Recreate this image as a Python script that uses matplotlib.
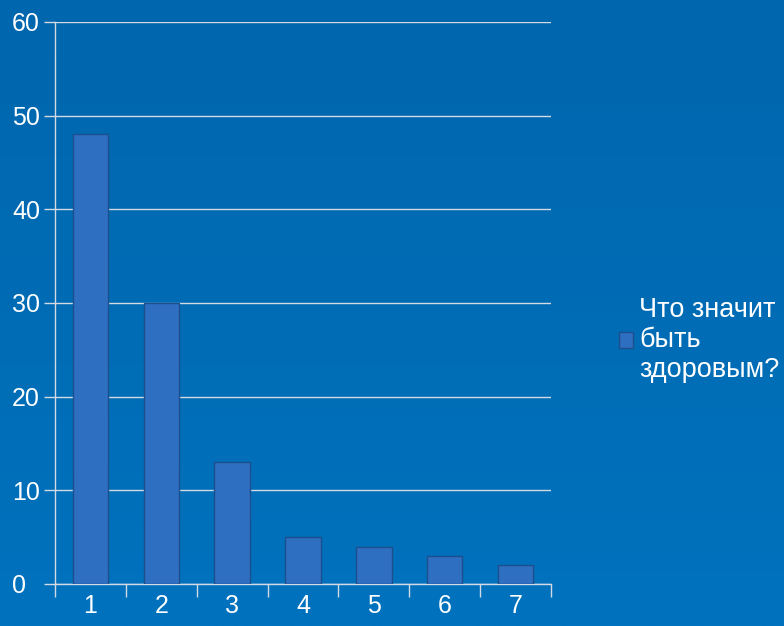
import numpy as np
import matplotlib
matplotlib.use('Agg')
import matplotlib.pyplot as plt
from matplotlib.colors import LinearSegmentedColormap

plt.rcParams['font.family'] = ['Liberation Sans', 'DejaVu Sans']

# data
categories = ['1', '2', '3', '4', '5', '6', '7']
values = [48, 30, 13, 5, 4, 3, 2]
series_name = 'Что значит\nбыть\nздоровым?'

fig = plt.figure(figsize=(7.84, 6.26), dpi=100)

# blue gradient background
bg = fig.add_axes([0, 0, 1, 1], zorder=-10)
grad = LinearSegmentedColormap.from_list('bg', ['#0066ad', '#0072be'])
bg.imshow(np.linspace(0, 1, 256).reshape(-1, 1), aspect='auto', cmap=grad, extent=[0, 1, 0, 1])
bg.axis('off')

ax = fig.add_axes([0.0702, 0.0671, 0.6327, 0.8978])
ax.patch.set_alpha(0)
x = np.arange(len(categories))
bars = ax.bar(x, values, width=0.5, color='#2f6fc2', edgecolor='#1d4f8c', linewidth=1.0, zorder=3,
              label=series_name)

ax.set_xlim(-0.5, len(categories) - 0.5)
ax.set_ylim(0, 60)
ax.set_yticks(range(0, 61, 10))
ax.yaxis.grid(True, color='#d4dae2', linewidth=1.0, zorder=0)

# ticks at category boundaries, labels at centres
ax.set_xticks(np.arange(-0.5, len(categories), 1.0))
ax.set_xticklabels([])
ax.set_xticks(x, minor=True)
ax.set_xticklabels(categories, minor=True)
ax.tick_params(axis='x', which='major', length=9, width=1.0, color='#d4dae2', direction='out')
ax.tick_params(axis='x', which='minor', length=0, pad=7, labelsize=18, labelcolor='white')
# y labels are left aligned near the figure edge
ax.tick_params(axis='y', length=8, width=1.0, color='#d4dae2', direction='out', pad=23,
               labelsize=18, labelcolor='white')
for lbl in ax.get_yticklabels():
    lbl.set_horizontalalignment('left')

for side in ['top', 'right']:
    ax.spines[side].set_visible(False)
for side in ['left', 'bottom']:
    ax.spines[side].set_color('#d4dae2')
    ax.spines[side].set_linewidth(1.0)

leg = fig.legend(handles=[bars], labels=[series_name], loc='center left',
                 bbox_to_anchor=(0.789, 0.457), frameon=False, fontsize=19.5,
                 handlelength=0.55, handleheight=0.55, handletextpad=0.2, labelcolor='white',
                 borderpad=0, borderaxespad=0)

fig.savefig('out.png', dpi=100)
